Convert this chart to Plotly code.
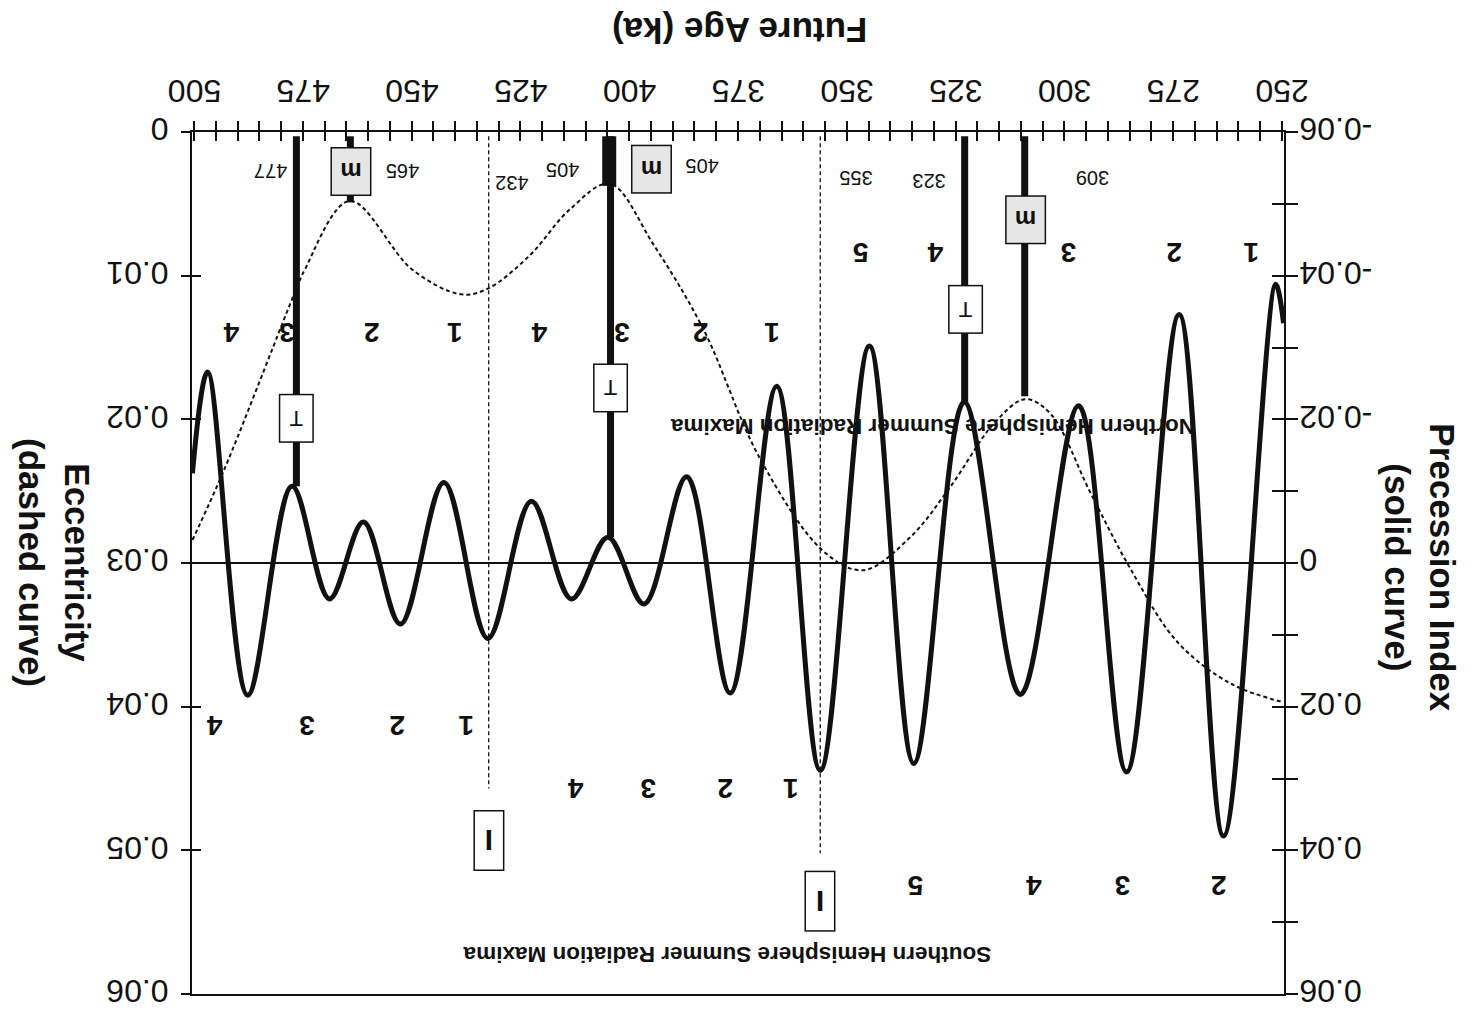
import plotly.graph_objects as go

# ---------------- data ----------------
# Precession index (solid curve), extrema in order of age (ka)
prec_age = [500.4, 496.9, 487.7, 477.5, 468.9, 461.1, 452.6, 442.6, 432.5, 422.5,
            413.3, 404.9, 396.6, 386.8, 376.8, 366.1, 356.1, 344.8, 334.6, 323.0,
            310.1, 296.7, 285.7, 273.6, 263.4, 251.4, 249.6]
prec_val = [-0.0125, -0.0266, 0.0184, -0.0107, 0.0050, -0.0057, 0.0085, -0.0112, 0.0105, -0.0086,
            0.0050, -0.0036, 0.0057, -0.0120, 0.0181, -0.0246, 0.0289, -0.0302, 0.0279, -0.0224,
            0.0183, -0.0219, 0.0291, -0.0346, 0.0380, -0.0388, -0.0334]

# Eccentricity (dashed curve)
ecc_age = [500.4, 493.1, 476.5, 474.6, 464.3, 449.8, 438.6, 432.5, 422.9, 413.7,
           404.5, 394.5, 383.0, 370.0, 355.3, 346.2, 335.4, 326.2, 316.2, 309.0,
           303.2, 294.0, 284.8, 274.0, 261.7, 249.6]
ecc_val = [0.0284, 0.0235, 0.0109, 0.0096, 0.0048, 0.0096, 0.0113, 0.0109, 0.0086, 0.0054,
           0.0036, 0.0078, 0.0137, 0.0227, 0.0292, 0.0305, 0.0282, 0.0247, 0.0203, 0.0186,
           0.0196, 0.0251, 0.0304, 0.0355, 0.0384, 0.0397]

# axis ticks
age_ticks = [500, 475, 450, 425, 400, 375, 350, 325, 300, 275, 250]
ecc_ticks = [0, 0.01, 0.02, 0.03, 0.04, 0.05, 0.06]
ecc_ticktext = ["0", "0.01", "0.02", "0.03", "0.04", "0.05", "0.06"]
prec_ticks = [-0.06, -0.04, -0.02, 0, 0.02, 0.04, 0.06]
prec_ticktext = ["-0.06", "-0.04", "-0.02", "0", "0.02", "0.04", "0.06"]

# termination (T) events: age and precession value where the bar ends
term_age = [476.5, 404.3, 322.9]
term_end = [-0.0107, -0.0036, -0.0224]
# mid (m) events: age and value where the bar ends
mid_age = [464.1, 404.6, 309.1]
mid_end = [-0.0502, -0.0525, -0.0232]
# initiation (I) events
init_age = [432.3, 356.1]
init_end = [0.0314, 0.0404]
top_val = -0.0594

# event labels
event_text = ["477", "465", "432", "405", "405", "355", "323", "309"]
event_lx = [482.3, 452.1, 427.0, 415.3, 383.3, 347.8, 331.0, 293.5]
event_ly = [-0.0546, -0.0546, -0.0528, -0.0548, -0.0553, -0.0537, -0.0532, -0.0537]

# box label positions
T_box_x = [476.5, 404.3, 322.7]
T_box_y = [-0.0202, -0.0244, -0.0353]
m_box_x = [463.9, 395.0, 308.9]
m_box_y = [-0.0545, -0.0548, -0.0478]
I_box_x = [432.3, 356.1]
I_box_y = [0.0387, 0.0471]

# cycle counts
nh_text = ["4", "3", "2", "1", "4", "3", "2", "1", "5", "4", "3", "2", "1"]
nh_x = [491.5, 478.8, 459.3, 440.1, 420.6, 401.7, 383.7, 367.2, 346.9, 329.7, 299.0, 274.9, 257.1]
nh_y = [-0.0321] * 8 + [-0.0432] * 5
sh_text = ["4", "3", "2", "1", "4", "3", "2", "1", "5", "4", "3", "2"]
sh_x = [495.4, 474.2, 453.5, 437.4, 412.3, 395.7, 378.0, 363.0, 334.3, 307.1, 286.6, 264.5]
sh_y = [0.0227] * 4 + [0.0314] * 4 + [0.0449] * 4

# ---------------- figure ----------------
fig = go.Figure()
BLACK = "#111111"
FONT = "Liberation Sans, Arial, sans-serif"

fig.add_trace(go.Scatter(x=ecc_age, y=ecc_val, mode="lines", xaxis="x", yaxis="y",
                         line=dict(color=BLACK, width=2, dash="4px,3px", shape="spline"),
                         hoverinfo="skip", showlegend=False))
fig.add_trace(go.Scatter(x=prec_age, y=prec_val, mode="lines", xaxis="x", yaxis="y2",
                         line=dict(color=BLACK, width=5, shape="spline"),
                         hoverinfo="skip", showlegend=False))

# vertical event bars
for a, e in zip(term_age, term_end):
    fig.add_trace(go.Scatter(x=[a, a], y=[top_val, e], mode="lines", xaxis="x", yaxis="y2",
                             line=dict(color=BLACK, width=7), hoverinfo="skip", showlegend=False))
for i, (a, e) in enumerate(zip(mid_age, mid_end)):
    fig.add_trace(go.Scatter(x=[a, a], y=[top_val, e], mode="lines", xaxis="x", yaxis="y2",
                             line=dict(color=BLACK, width=14 if i == 1 else 7),
                             hoverinfo="skip", showlegend=False))
for a, e in zip(init_age, init_end):
    fig.add_trace(go.Scatter(x=[a, a], y=[top_val, e], mode="lines", xaxis="x", yaxis="y2",
                             line=dict(color=BLACK, width=1.3, dash="4px,3px"),
                             hoverinfo="skip", showlegend=False))

# empty traces to host the overlay axes used for crossing ticks
fig.add_trace(go.Scatter(x=[None], y=[None], xaxis="x2", yaxis="y", showlegend=False, hoverinfo="skip"))
fig.add_trace(go.Scatter(x=[None], y=[None], xaxis="x", yaxis="y3", showlegend=False, hoverinfo="skip"))
fig.add_trace(go.Scatter(x=[None], y=[None], xaxis="x", yaxis="y4", showlegend=False, hoverinfo="skip"))

xr = [500.5, 249.5]
tickfont = dict(family=FONT, size=32, color=BLACK)


def label(x, y, text, size, bold=False, **kw):
    d = dict(x=x, y=y, xref="x", yref="y2", text=("<b>%s</b>" % text) if bold else text,
             showarrow=False, textangle=180, xanchor="center", yanchor="middle",
             font=dict(family=FONT, size=size, color=BLACK))
    d.update(kw)
    return d


ann = []
for t, x, y in zip(event_text, event_lx, event_ly):
    ann.append(label(x, y, t, 20))
for x, y in zip(T_box_x, T_box_y):
    ann.append(label(x, y, "T", 22, width=30, height=44, bgcolor="white",
                     bordercolor=BLACK, borderwidth=1.5))
for x, y in zip(m_box_x, m_box_y):
    ann.append(label(x, y, "m", 24, bold=True, width=36, height=44, bgcolor="#e6e6e6",
                     bordercolor=BLACK, borderwidth=1.5))
for x, y in zip(I_box_x, I_box_y):
    ann.append(label(x, y, "I", 30, bold=True, width=26, height=56, bgcolor="white",
                     bordercolor=BLACK, borderwidth=1.5))
for t, x, y in zip(nh_text, nh_x, nh_y):
    ann.append(label(x, y, t, 28, bold=True))
for t, x, y in zip(sh_text, sh_x, sh_y):
    ann.append(label(x, y, t, 28, bold=True))
ann.append(label(330.3, -0.0191, "Northern Hemisphere Summer Radiation Maxima", 22.5, bold=True))
ann.append(label(377.5, 0.0546, "Southern Hemisphere Summer Radiation Maxima", 22.5, bold=True))

# axis titles (page is upside-down)
ann.append(dict(x=0.502, y=1.118, xref="paper", yref="paper", text="<b>Future Age (ka)</b>",
                showarrow=False, textangle=180, xanchor="center", yanchor="middle",
                font=dict(family=FONT, size=35, color=BLACK)))
ann.append(dict(x=-0.1255, y=0.5, xref="paper", yref="paper",
                text="<b>Eccentricity<br>(dashed curve)</b>", showarrow=False, textangle=90,
                xanchor="center", yanchor="middle",
                font=dict(family=FONT, size=35, color=BLACK)))
ann.append(dict(x=1.1245, y=0.495, xref="paper", yref="paper",
                text="<b>Precession Index<br>(solid curve)</b>", showarrow=False, textangle=90,
                xanchor="center", yanchor="middle",
                font=dict(family=FONT, size=35, color=BLACK)))

fig.update_layout(
    width=1473, height=1016,
    margin=dict(l=192, r=189, t=132, b=22, autoexpand=False),
    paper_bgcolor="white", plot_bgcolor="white",
    showlegend=False,
    annotations=ann,
    xaxis=dict(range=xr, side="top", anchor="y", tickvals=age_ticks, ticktext=[str(v) for v in age_ticks],
               tickangle=180, tickfont=tickfont, ticks="outside", ticklen=9, tickwidth=1.5,
               tickcolor=BLACK, minor=dict(dtick=5, tick0=0, ticks="outside", ticklen=9,
                                           tickwidth=1.5, tickcolor=BLACK),
               showline=True, linecolor=BLACK, linewidth=2, mirror=True, showgrid=False,
               zeroline=False, ticklabelstandoff=-4, ticklabelshift=-27,
               ticklabeloverflow="allow", automargin=False),
    xaxis2=dict(range=xr, overlaying="x", side="top", anchor="y", tickvals=age_ticks,
                showticklabels=False, ticks="inside", ticklen=9, tickwidth=1.5, tickcolor=BLACK,
                minor=dict(dtick=5, tick0=0, ticks="inside", ticklen=9, tickwidth=1.5, tickcolor=BLACK),
                showline=False, showgrid=False, zeroline=False, automargin=False),
    yaxis=dict(range=[0.06, 0], side="left", anchor="x", tickvals=ecc_ticks, ticktext=ecc_ticktext,
               tickangle=180, tickfont=tickfont, ticks="outside", ticklen=9, tickwidth=1.5,
               tickcolor=BLACK, showline=True, linecolor=BLACK, linewidth=2, showgrid=False,
               zeroline=False, ticklabelposition="inside", ticklabelstandoff=-20,
               ticklabelshift=-7, ticklabeloverflow="allow", automargin=False),
    yaxis3=dict(range=[0.06, 0], overlaying="y", side="left", anchor="x", tickvals=ecc_ticks,
                showticklabels=False, ticks="inside", ticklen=9, tickwidth=1.5, tickcolor=BLACK,
                showline=False, showgrid=False, zeroline=False, automargin=False),
    yaxis2=dict(range=[0.06, -0.06], overlaying="y", side="right", anchor="x", tickvals=prec_ticks,
                ticktext=prec_ticktext, tickangle=180, tickfont=tickfont, ticks="outside",
                ticklen=12, tickwidth=1.5, tickcolor=BLACK,
                minor=dict(dtick=0.01, tick0=0, ticks="outside", ticklen=12, tickwidth=1.5,
                           tickcolor=BLACK),
                showline=True, linecolor=BLACK, linewidth=2, showgrid=False,
                zeroline=True, zerolinecolor=BLACK, zerolinewidth=1.5,
                ticklabelposition="inside", ticklabelstandoff=-12, ticklabelshift=-7,
                ticklabeloverflow="allow", automargin=False),
    yaxis4=dict(range=[0.06, -0.06], overlaying="y", side="right", anchor="x", tickvals=prec_ticks,
                showticklabels=False, ticks="inside", ticklen=12, tickwidth=1.5, tickcolor=BLACK,
                minor=dict(dtick=0.01, tick0=0, ticks="inside", ticklen=12, tickwidth=1.5,
                           tickcolor=BLACK),
                showline=False, showgrid=False, zeroline=False, automargin=False),
)

fig.write_html("out.html")
